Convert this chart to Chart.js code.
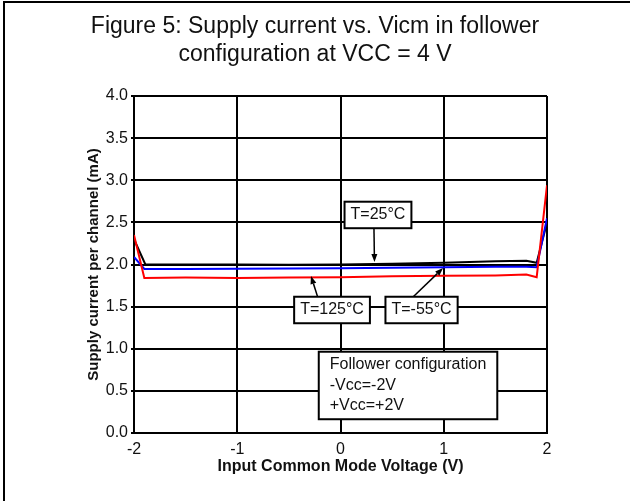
<!DOCTYPE html>
<html>
<head>
<meta charset="utf-8">
<title>Supply current vs. Vicm</title>
<style>
  html, body { margin: 0; padding: 0; background: #fff; }
  canvas { display: block; }
</style>
</head>
<body>
<canvas id="chart" width="630" height="501"></canvas>
<script src="https://cdn.jsdelivr.net/npm/chart.js@4.4.1/dist/chart.umd.min.js"></script>
<script>
// ===== データ =====
const titleLines = ["Figure 5: Supply current vs. Vicm in follower", "configuration at VCC = 4 V"];
const xTitle = "Input Common Mode Voltage (V)";
const yTitle = "Supply current per channel (mA)";

// 入力同相電圧 (V)
const vRed   = [-2, -1.9, -1.5, -1, -0.5, 0, 0.5, 1, 1.5, 1.8, 1.9, 2];
const vBlue  = [-2, -1.9, -1.5, -1, -0.5, 0, 0.5, 1, 1.5, 1.8, 1.9, 2];
const vBlack = [-2, -1.89, -1.5, -1, -0.5, 0, 0.5, 1, 1.5, 1.8, 1.9, 2];

// 電源電流 (mA)
const iHot   = [2.35, 1.84, 1.845, 1.84, 1.845, 1.85, 1.86, 1.865, 1.87, 1.88, 1.85, 2.94];   // T=125°C
const iCold  = [2.09, 1.947, 1.948, 1.95, 1.952, 1.955, 1.96, 1.968, 1.972, 1.972, 1.967, 2.55]; // T=-55°C
const iRoom  = [2.3, 2.0, 2.0, 2.0, 1.998, 2.0, 2.008, 2.02, 2.04, 2.045, 2.02, 2.5];        // T=25°C

const xTicks = [-2, -1, 0, 1, 2];
const yTicks = [0, 0.5, 1, 1.5, 2, 2.5, 3, 3.5, 4];

const FONT = "'Liberation Sans', Arial, Helvetica, sans-serif";

// ===== 注記（ボックスと矢印） =====
const notes = [
  { lines: ["T=25°C"],   cx: 0.363,  cy: 2.588, pad: 6,  align: "center", from: [0.324, 2.43], to: [0.329, 2.03] },
  { lines: ["T=125°C"],  cx: -0.082, cy: 1.46,  pad: 6,  align: "center", from: [-0.218, 1.602], to: [-0.286, 1.864] },
  { lines: ["T=-55°C"],  cx: 0.785,  cy: 1.46,  pad: 6,  align: "center", from: [0.692, 1.602], to: [0.993, 1.958] },
  { lines: ["Follower configuration", "-Vcc=-2V", "+Vcc=+2V"], cx: 0.654, cy: 0.564, pad: 11, align: "left" }
];

function pairs(xs, ys) {
  return xs.map((x, i) => ({ x: x, y: ys[i] }));
}

// 外枠（左と上だけ見える）
const framePlugin = {
  id: "frame",
  beforeDraw(chart) {
    const ctx = chart.ctx;
    ctx.save();
    ctx.fillStyle = "#fff";
    ctx.fillRect(0, 0, chart.width, chart.height);
    ctx.strokeStyle = "#000";
    ctx.lineWidth = 2;
    ctx.beginPath();
    ctx.moveTo(4, chart.height);
    ctx.lineTo(4, 2);
    ctx.lineTo(chart.width, 2);
    ctx.stroke();
    ctx.restore();
  }
};

function arrow(ctx, x1, y1, x2, y2) {
  const ang = Math.atan2(y2 - y1, x2 - x1);
  const len = 8, half = 3;
  ctx.beginPath();
  ctx.moveTo(x1, y1);
  ctx.lineTo(x2 - Math.cos(ang) * len, y2 - Math.sin(ang) * len);
  ctx.stroke();
  ctx.beginPath();
  ctx.moveTo(x2, y2);
  ctx.lineTo(x2 - Math.cos(ang) * len - Math.sin(ang) * half, y2 - Math.sin(ang) * len + Math.cos(ang) * half);
  ctx.lineTo(x2 - Math.cos(ang) * len + Math.sin(ang) * half, y2 - Math.sin(ang) * len - Math.cos(ang) * half);
  ctx.closePath();
  ctx.fill();
}

const notePlugin = {
  id: "notes",
  afterDatasetsDraw(chart) {
    const ctx = chart.ctx;
    const xs = chart.scales.x, ys = chart.scales.y;
    const lh = 20.5;
    ctx.save();
    ctx.font = "16px " + FONT;
    ctx.textBaseline = "middle";
    notes.forEach(function (n) {
      ctx.strokeStyle = "#000";
      ctx.fillStyle = "#000";
      ctx.lineWidth = 1.5;
      if (n.from) {
        arrow(ctx, xs.getPixelForValue(n.from[0]), ys.getPixelForValue(n.from[1]),
                   xs.getPixelForValue(n.to[0]), ys.getPixelForValue(n.to[1]));
      }
      const w = Math.max.apply(null, n.lines.map(t => ctx.measureText(t).width)) + n.pad * 2;
      const h = n.lines.length * lh + 6;
      const cx = xs.getPixelForValue(n.cx), cy = ys.getPixelForValue(n.cy);
      const left = cx - w / 2, top = cy - h / 2;
      ctx.fillStyle = "#fff";
      ctx.fillRect(left, top, w, h);
      ctx.lineWidth = 2;
      ctx.strokeRect(left, top, w, h);
      ctx.fillStyle = "#111";
      ctx.textAlign = n.align;
      n.lines.forEach(function (t, i) {
        const ty = top + 3 + lh * (i + 0.5);
        ctx.fillText(t, n.align === "center" ? cx : left + n.pad, ty);
      });
    });
    ctx.restore();
  }
};

new Chart(document.getElementById("chart"), {
  type: "scatter",
  data: {
    datasets: [
      { label: "T=125°C", data: pairs(vRed, iHot),    borderColor: "#ff0000" },
      { label: "T=-55°C", data: pairs(vBlue, iCold),  borderColor: "#0000ff" },
      { label: "T=25°C",  data: pairs(vBlack, iRoom), borderColor: "#000000" }
    ]
  },
  options: {
    responsive: false,
    animation: false,
    devicePixelRatio: 1,
    showLine: true,
    elements: {
      line: { borderWidth: 2, tension: 0, fill: false },
      point: { radius: 0, hoverRadius: 0 }
    },
    layout: { padding: { left: 83, right: 83, top: 0, bottom: 0 } },
    plugins: {
      legend: { display: false },
      tooltip: { enabled: false },
      title: {
        display: true,
        text: titleLines,
        color: "#111",
        font: { family: FONT, size: 23, weight: "normal", lineHeight: 28 / 23 },
        padding: { top: 13, bottom: 27 }
      }
    },
    scales: {
      x: {
        type: "linear",
        min: -2, max: 2,
        afterFit: s => { s.height = 68; },
        afterBuildTicks: s => { s.ticks = xTicks.map(v => ({ value: v })); },
        ticks: { color: "#111", font: { family: FONT, size: 16 }, padding: 7, callback: v => String(v) },
        grid: { color: "#000", lineWidth: 2, drawTicks: false },
        border: { color: "#000", width: 2 },
        title: {
          display: true, text: xTitle, color: "#111",
          font: { family: FONT, size: 16, weight: "bold" },
          padding: { top: 0, bottom: 25 }
        }
      },
      y: {
        type: "linear",
        min: 0, max: 4,
        afterFit: s => { s.width = 51; },
        afterBuildTicks: s => { s.ticks = yTicks.map(v => ({ value: v })); },
        ticks: { color: "#111", font: { family: FONT, size: 16 }, padding: 3, callback: v => v.toFixed(1) },
        grid: { color: "#000", lineWidth: 2, tickLength: 3 },
        border: { color: "#000", width: 2 },
        title: {
          display: true, text: yTitle, color: "#111",
          font: { family: FONT, size: 15, weight: "bold" },
          padding: { top: 2, bottom: 0 }
        }
      }
    }
  },
  plugins: [framePlugin, notePlugin]
});
</script>
</body>
</html>
